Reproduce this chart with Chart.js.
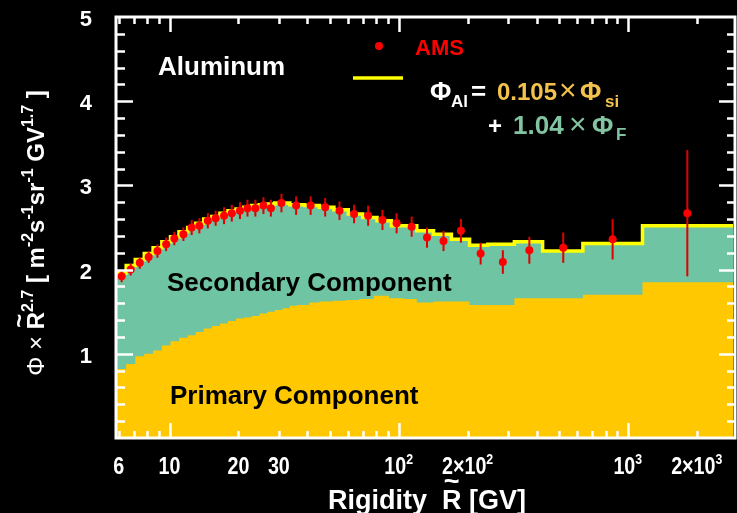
<!DOCTYPE html>
<html lang="en">

<head>
    <meta charset="UTF-8">
    <title>Aluminum flux - AMS</title>
    <style>
        body {
            margin: 0;
            background: #000;
        }

        #wrap {
            width: 737px;
            height: 513px;
        }
    </style>
</head>

<body>
    <div id="wrap">
        <canvas id="alChart" width="737" height="513"></canvas>
    </div>
    <script src="https://cdn.jsdelivr.net/npm/chart.js"></script>
    <script>
        // Model histogram: 0.105 x Si + 1.04 x F (sum), bin edges in GV
        const totalEdges = [5.9, 6.47, 7.09, 7.76, 8.48, 9.26, 10.1, 11.0, 12.0, 13.0, 14.1, 15.3, 16.6, 18.0, 19.5,
            21.1, 22.8, 24.7, 26.7, 28.8, 33.5, 38.9, 45.1, 52.2, 60.3, 69.7, 80.5, 93.0, 120, 142, 170, 204, 245,
            320, 425, 637, 1160, 3300];
        const totalFlux = [1.96, 2.05, 2.12, 2.19, 2.26, 2.33, 2.39, 2.45, 2.50, 2.55, 2.60, 2.63, 2.67, 2.70, 2.72,
            2.74, 2.76, 2.77, 2.78, 2.79, 2.77, 2.76, 2.74, 2.71, 2.66, 2.62, 2.58, 2.52, 2.46, 2.42, 2.36, 2.29,
            2.30, 2.33, 2.22, 2.31, 2.52];

        // Primary part (0.105 x Si)
        const primaryEdges = [5.9, 6.47, 7.09, 7.76, 8.48, 9.26, 10.1, 11.0, 12.0, 13.0, 14.1, 15.3, 16.6, 18.0, 19.5,
            21.1, 22.8, 24.7, 26.7, 28.8, 31.1, 33.5, 36.1, 40.7, 45.1, 51.5, 58.9, 67.2, 78.0, 90.6, 105, 120, 142,
            170, 204, 245, 320, 637, 1160, 3300];
        const primaryFlux = [0.82, 0.88, 0.97, 1.00, 1.04, 1.10, 1.15, 1.19, 1.22, 1.26, 1.30, 1.33, 1.36, 1.39, 1.42,
            1.43, 1.45, 1.48, 1.50, 1.52, 1.54, 1.57, 1.58, 1.61, 1.62, 1.63, 1.64, 1.65, 1.69, 1.66, 1.65, 1.61,
            1.62, 1.62, 1.58, 1.58, 1.66, 1.70, 1.85];

        // AMS aluminum measurements
        const amsRigidity = [6.18, 6.77, 7.42, 8.11, 8.86, 9.67, 10.5, 11.5, 12.5, 13.5, 14.7, 15.9, 17.3, 18.7, 20.3,
            21.9, 23.7, 25.7, 27.7, 30.8, 35.7, 41.3, 47.8, 55.2, 63.9, 73.6, 85.0, 98.0, 114, 133, 157, 187, 228,
            285, 372, 523, 859, 1820];
        const amsFlux = [1.92, 2.00, 2.08, 2.15, 2.22, 2.30, 2.37, 2.42, 2.50, 2.52, 2.58, 2.61, 2.64, 2.67, 2.70,
            2.73, 2.73, 2.76, 2.73, 2.79, 2.76, 2.76, 2.74, 2.70, 2.66, 2.64, 2.59, 2.55, 2.51, 2.38, 2.34, 2.46,
            2.19, 2.09, 2.23, 2.26, 2.36, 2.67];
        const amsError = [0.07, 0.07, 0.07, 0.07, 0.08, 0.08, 0.08, 0.08, 0.09, 0.09, 0.09, 0.09, 0.10, 0.10, 0.10,
            0.10, 0.10, 0.10, 0.10, 0.11, 0.11, 0.11, 0.11, 0.11, 0.11, 0.12, 0.12, 0.12, 0.12, 0.12, 0.12, 0.14,
            0.13, 0.14, 0.16, 0.18, 0.24, 0.75];

        const yTickValues = [1, 2, 3, 4, 5];
        const xTickValues = [6, 10, 20, 30, 100, 200, 1000, 2000];
        const xTickLabels = ['6', '10', '20', '30', '10^2', '2×10^2', '10^3', '2×10^3'];

        const FONT = '"Liberation Sans", Arial, sans-serif';

        function stepPoints(edges, vals) {
            const pts = vals.map((v, i) => ({ x: edges[i], y: v }));
            pts.push({ x: edges[edges.length - 1], y: vals[vals.length - 1] });
            return pts;
        }

        // draw a list of text runs one after the other on a baseline
        function drawRuns(ctx, x, y, runs, measureOnly) {
            let cx = x;
            runs.forEach(r => {
                ctx.font = (r.weight || 'bold') + ' ' + r.size + 'px ' + FONT;
                const w = ctx.measureText(r.t).width;
                if (!measureOnly) {
                    ctx.fillStyle = r.color || '#fff';
                    ctx.fillText(r.t, cx, y + (r.dy || 0));
                    if (r.tilde) {
                        ctx.font = 'bold ' + r.size + 'px ' + FONT;
                        ctx.textAlign = 'center';
                        ctx.fillText('~', cx + w / 2, y - r.size * 0.72);
                        ctx.textAlign = 'left';
                    }
                }
                cx += w;
            });
            return cx - x;
        }

        // draws frame, ticks, labels and text on top of the datasets
        const decorations = {
            id: 'decorations',
            beforeDatasetDraw(chart, args) {
                if (args.index !== 0) return;
                const ctx = chart.ctx, xs = chart.scales.x, ys = chart.scales.y;
                ctx.save();
                ctx.strokeStyle = '#e00000';
                ctx.lineWidth = 2;
                amsRigidity.forEach((r, i) => {
                    const px = xs.getPixelForValue(r);
                    ctx.beginPath();
                    ctx.moveTo(px, ys.getPixelForValue(amsFlux[i] - amsError[i]));
                    ctx.lineTo(px, ys.getPixelForValue(amsFlux[i] + amsError[i]));
                    ctx.stroke();
                });
                ctx.restore();
            },
            afterDraw(chart) {
                const ctx = chart.ctx, a = chart.chartArea;
                const xs = chart.scales.x, ys = chart.scales.y;
                const right = a.right + 2;
                ctx.save();
                ctx.strokeStyle = '#fff';
                ctx.fillStyle = '#fff';

                // frame (right edge falls just outside the canvas)
                ctx.lineWidth = 3;
                ctx.strokeRect(a.left - 1, a.top, right - a.left + 1, a.bottom - a.top);

                // y ticks, left and right
                ctx.lineWidth = 2.5;
                for (let k = 1; k < 25; k++) {
                    const v = k * 0.2;
                    const py = Math.round(ys.getPixelForValue(v)) + 0.5;
                    const len = k % 5 === 0 ? 16 : 8;
                    ctx.beginPath();
                    ctx.moveTo(a.left, py); ctx.lineTo(a.left + len, py);
                    ctx.moveTo(right, py); ctx.lineTo(right - len, py);
                    ctx.stroke();
                }

                // x ticks, bottom and top
                const xt = [];
                for (let d = 1; d <= 1000; d *= 10) {
                    for (let m = 1; m < 10; m++) xt.push(m * d);
                }
                xt.forEach(v => {
                    if (v < xs.min || v > xs.max) return;
                    const px = Math.round(xs.getPixelForValue(v)) + 0.5;
                    const len = [10, 100, 1000].includes(v) ? 15 : 7;
                    ctx.beginPath();
                    ctx.moveTo(px, a.bottom); ctx.lineTo(px, a.bottom - len);
                    ctx.moveTo(px, a.top); ctx.lineTo(px, a.top + len);
                    ctx.stroke();
                });

                // y tick labels
                ctx.font = 'bold 22px ' + FONT;
                ctx.textAlign = 'right';
                ctx.textBaseline = 'middle';
                yTickValues.forEach(v => {
                    ctx.fillText(String(v), 92, ys.getPixelForValue(v) + 3);
                });

                // x tick labels, condensed
                ctx.textAlign = 'left';
                ctx.textBaseline = 'alphabetic';
                const sx = 0.82;
                xTickValues.forEach((v, i) => {
                    const parts = xTickLabels[i].split('^');
                    const runs = [{ t: parts[0], size: 24 }];
                    if (parts[1]) runs.push({ t: parts[1], size: 15, dy: -10 });
                    const w = drawRuns(ctx, 0, 0, runs, true) * sx;
                    const px = xs.getPixelForValue(v);
                    ctx.save();
                    ctx.translate(px - w / 2, 474);
                    ctx.scale(sx, 1);
                    drawRuns(ctx, 0, 0, runs);
                    ctx.restore();
                });

                // x axis title
                const xTitle = [
                    { t: 'Rigidity  ', size: 27 },
                    { t: 'R', size: 27, tilde: true },
                    { t: ' [GV]', size: 27 }
                ];
                const xw = drawRuns(ctx, 0, 0, xTitle, true);
                drawRuns(ctx, 427 - xw / 2, 509, xTitle);

                // y axis title, rotated
                const yTitle = [
                    { t: 'Φ × ', size: 24, weight: 'normal' },
                    { t: 'R', size: 24, tilde: true },
                    { t: '2.7', size: 16, dy: -11 },
                    { t: ' [ m', size: 24 },
                    { t: '-2', size: 16, dy: -11 },
                    { t: 's', size: 24 },
                    { t: '-1', size: 16, dy: -11 },
                    { t: 'sr', size: 24 },
                    { t: '-1', size: 16, dy: -11 },
                    { t: ' GV', size: 24 },
                    { t: '1.7', size: 16, dy: -11 },
                    { t: ' ]', size: 24 }
                ];
                const yw = drawRuns(ctx, 0, 0, yTitle, true);
                ctx.save();
                ctx.translate(44, 233 + yw / 2);
                ctx.rotate(-Math.PI / 2);
                drawRuns(ctx, 0, 0, yTitle);
                ctx.restore();

                // panel texts
                ctx.font = 'bold 26px ' + FONT;
                ctx.fillStyle = '#fff';
                ctx.fillText('Aluminum', 158, 75);
                ctx.fillStyle = '#000';
                ctx.fillText('Secondary Component', 167, 291);
                ctx.fillText('Primary Component', 170, 404);

                // legend
                ctx.fillStyle = '#ff0000';
                ctx.beginPath();
                ctx.arc(379, 46, 4, 0, Math.PI * 2);
                ctx.fill();
                ctx.font = 'bold 22px ' + FONT;
                ctx.fillText('AMS', 415, 55);
                ctx.strokeStyle = '#ffff00';
                ctx.lineWidth = 3.5;
                ctx.beginPath();
                ctx.moveTo(353, 78); ctx.lineTo(403, 78);
                ctx.stroke();

                // model formula
                const gold = '#f2c24c', teal = '#82c4a2';
                const put = (t, x, y, size, color, weight) => {
                    ctx.font = (weight || 'bold') + ' ' + size + 'px ' + FONT;
                    ctx.fillStyle = color;
                    ctx.fillText(t, x, y);
                };
                put('Φ', 430, 100, 26, '#fff');
                put('Al', 451, 107, 17, '#fff');
                put('=', 471, 100, 26, '#fff');
                put('0.105', 497, 100, 24, gold);
                put('×', 559, 100, 30, gold, 'normal');
                put('Φ', 580, 100, 26, gold);
                put('si', 605, 107, 17, gold);
                put('+', 488, 134, 24, '#fff');
                put('1.04', 513, 134, 26, teal);
                put('×', 569, 134, 30, teal, 'normal');
                put('Φ', 592, 134, 26, teal);
                put('F', 616, 140, 17, teal);

                ctx.restore();
            }
        };

        const ctx = document.getElementById('alChart').getContext('2d');
        new Chart(ctx, {
            type: 'line',
            data: {
                datasets: [{
                    label: 'AMS',
                    type: 'scatter',
                    data: amsRigidity.map((r, i) => ({ x: r, y: amsFlux[i] })),
                    pointRadius: 4,
                    pointBackgroundColor: '#ff0000',
                    pointBorderWidth: 0,
                    order: 0
                }, {
                    label: 'Primary Component',
                    data: stepPoints(primaryEdges, primaryFlux),
                    stepped: true,
                    fill: 'origin',
                    backgroundColor: '#ffc800',
                    borderWidth: 0,
                    pointRadius: 0,
                    order: 1
                }, {
                    label: 'Total',
                    data: stepPoints(totalEdges, totalFlux),
                    stepped: true,
                    fill: 'origin',
                    backgroundColor: '#6ec4a3',
                    borderColor: '#ffff00',
                    borderWidth: 3.5,
                    pointRadius: 0,
                    order: 2
                }]
            },
            options: {
                responsive: false,
                animation: false,
                devicePixelRatio: 1,
                layout: {
                    padding: { left: 117, right: 0, top: 17, bottom: 75 }
                },
                scales: {
                    x: { type: 'logarithmic', min: 5.9, max: 2880, display: false },
                    y: { type: 'linear', min: 0, max: 5, display: false }
                },
                plugins: {
                    legend: { display: false },
                    tooltip: { enabled: false }
                }
            },
            plugins: [decorations]
        });
    </script>
</body>
</html>
